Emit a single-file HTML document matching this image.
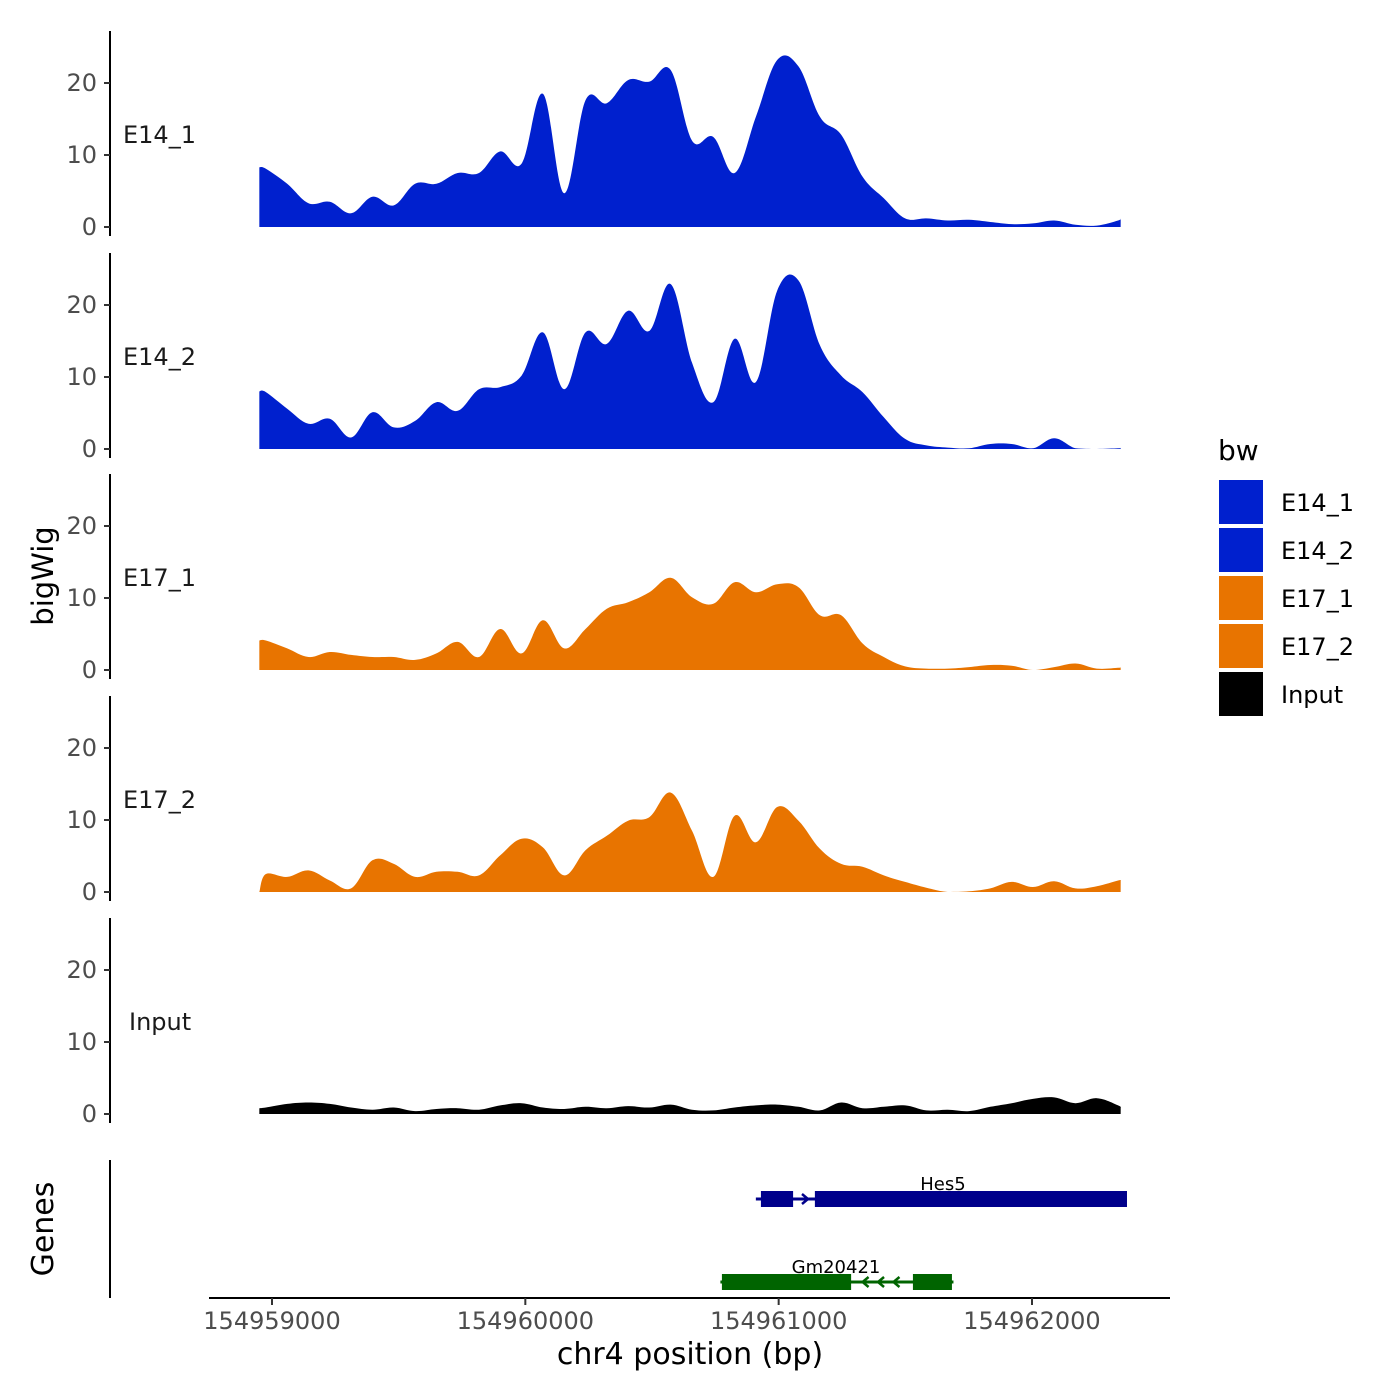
<!DOCTYPE html>
<html><head><meta charset="utf-8"><style>
body{margin:0;background:#fff;}
svg{display:block;font-family:"DejaVu Sans","Liberation Sans",sans-serif;}
</style></head><body>
<svg id="chart" width="1400" height="1400" viewBox="0 0 1400 1400"></svg>
<script>
const trackNames = ["E14_1","E14_2","E17_1","E17_2","Input"];
const trackColors = ["#0020CE","#0020CE","#E87400","#E87400","#000000"];
const startBp = 154958976;
const stepBp = 84.1;
const e14_1 = [8.1,6,3.3,3.5,1.9,4.2,3,6,6,7.5,7.5,10.5,8.8,18.5,4.7,17.6,17.2,20.4,20.2,21.8,12,12.5,7.5,15.3,23.2,22.3,15.3,12.8,7,4,1.2,1.2,0.9,1,0.7,0.4,0.5,0.9,0.3,0.2,0.9];
const e14_2 = [7.9,5.6,3.5,4.2,1.6,5.1,3,3.9,6.5,5.3,8.3,8.6,10.2,16.2,8.3,16.2,14.6,19.2,16.4,22.9,12,6.5,15.3,9.3,22,23.4,14.4,10.2,7.9,4.4,1.4,0.5,0.2,0.1,0.7,0.7,0.1,1.5,0.1,0,0.1];
const e17_1 = [4.1,3,1.8,2.5,2.1,1.8,1.8,1.4,2.3,3.9,1.8,5.7,2.3,6.9,3,5.7,8.5,9.4,10.8,12.8,10.1,9.2,12.2,10.8,11.9,11.5,7.6,7.6,3.7,1.8,0.5,0.2,0.2,0.4,0.7,0.6,0,0.4,0.9,0.2,0.3];
const e17_2 = [2.5,2.1,3,1.6,0.5,4.4,3.9,2.1,2.8,2.8,2.3,5.1,7.4,6.2,2.3,5.8,7.8,9.9,10.4,13.8,8.5,2.1,10.6,6.9,11.8,9.9,6,3.9,3.5,2.3,1.4,0.6,0,0.1,0.5,1.4,0.7,1.5,0.5,0.8,1.6];
const inputVals = [0.9,1.4,1.6,1.4,0.9,0.6,0.9,0.4,0.7,0.8,0.6,1.2,1.5,0.9,0.7,1.0,0.8,1.1,0.9,1.3,0.6,0.5,0.9,1.2,1.3,1.0,0.5,1.6,0.8,1.0,1.2,0.5,0.6,0.4,1.0,1.5,2.1,2.3,1.5,2.2,1.2];
const edgeStart = [8.3,8.0,4.1,0,0.8];
const edgeEnd = [1.2,0.2,0.4,1.6,0.8];
const xTicks = [154959000,154960000,154961000,154962000];
const yTicks = [0,10,20];
const legendLabels = ["E14_1","E14_2","E17_1","E17_2","Input"];
const legendColors = ["#0020CE","#0020CE","#E87400","#E87400","#000000"];
const genes = ["Hes5","Gm20421"];
const geneStart = [154960910,154960770];
const geneEnd = [154962375,154961690];
const hesExonStart = [154960930,154961143];
const hesExonEnd = [154961057,154962375];
const gmExonStart = [154960776,154961530];
const gmExonEnd = [154961286,154961684];

const series = [e14_1,e14_2,e17_1,e17_2,inputVals];
const NS="http://www.w3.org/2000/svg";
const svg=document.getElementById('chart');
function xS(bp){return 272+(bp-154959000)*0.25333;}
const zeroY=[227,449,670,892,1114];
function yS(p,v){return zeroY[p]-v*7.2;}
function mk(tag,attrs,parent){const e=document.createElementNS(NS,tag);for(const k in attrs)e.setAttribute(k,attrs[k]);(parent||svg).appendChild(e);return e;}

for(let p=0;p<5;p++){
  const g=mk('g',{});
  
  
  const vals=series[p];
  const x0=xS(154958950), x1=xS(154962350);
  const pts=[[x0,yS(p,edgeStart[p])]];
  for(let i=0;i<vals.length;i++) pts.push([xS(startBp+i*stepBp),yS(p,vals[i])]);
  pts.push([x1,yS(p,edgeEnd[p])]);
  let d='M'+x0+','+zeroY[p]+' L'+pts[0][0]+','+pts[0][1];
  const cl=v=>Math.min(v,zeroY[p]);
  for(let i=0;i<pts.length-1;i++){
    const a=pts[Math.max(0,i-1)],b=pts[i],c=pts[i+1],e=pts[Math.min(pts.length-1,i+2)];
    const t=0.18;
    const c1x=b[0]+(c[0]-a[0])*t, c1y=cl(b[1]+(c[1]-a[1])*t);
    const c2x=c[0]-(e[0]-b[0])*t, c2y=cl(c[1]-(e[1]-b[1])*t);
    d+=` C${c1x.toFixed(1)},${c1y.toFixed(1)} ${c2x.toFixed(1)},${c2y.toFixed(1)} ${c[0].toFixed(1)},${c[1].toFixed(1)}`;
  }
  d+=' L'+x1+','+zeroY[p]+' Z';
  const a=mk('path',{d:d,fill:trackColors[p]},g);
  
  
  const ax=mk('line',{x1:110,x2:110,y1:zeroY[p]-196,y2:zeroY[p]+9,stroke:'#000','stroke-width':2},g);
  
  
  for(const t of yTicks){
    const y=yS(p,t);
    mk('line',{x1:104,x2:110,y1:y,y2:y,stroke:'#333','stroke-width':2},g);
    const tl=mk('text',{x:97,y:y+8,'text-anchor':'end','font-size':24,fill:'#4d4d4d'},g);
    tl.textContent=t;
    
    
  }
  const lb=mk('text',{x:p==4?129:123,y:zeroY[p]-84,'font-size':24,fill:'#1a1a1a'},g);
  lb.textContent=trackNames[p];
  
  
}

const yt=mk('text',{x:0,y:0,transform:'translate(53,576) rotate(-90)','text-anchor':'middle','font-size':29,fill:'#000'});
yt.textContent='bigWig';


const gt=mk('text',{x:0,y:0,transform:'translate(53,1229) rotate(-90)','text-anchor':'middle','font-size':30,fill:'#000'});
gt.textContent='Genes';



const gl=mk('line',{x1:110,x2:110,y1:1160,y2:1298,stroke:'#000','stroke-width':2});


const xl=mk('line',{x1:209,x2:1170,y1:1298,y2:1298,stroke:'#000','stroke-width':2});


for(const t of xTicks){
  const x=xS(t);
  mk('line',{x1:x,x2:x,y1:1298,y2:1305,stroke:'#333','stroke-width':2});
  const tl=mk('text',{x:x,y:1329,'text-anchor':'middle','font-size':24,fill:'#4d4d4d'});
  tl.textContent=t;
  
  
}
const xt=mk('text',{x:690,y:1364,'text-anchor':'middle','font-size':30,fill:'#000'});
xt.textContent='chr4 position (bp)';



function drawGene(name,y,color,s,e,es,ee,dir,labelX){
  const g=mk('g',{});
  
  
  mk('line',{x1:xS(s),x2:xS(e),y1:y,y2:y,stroke:color,'stroke-width':3},g);
  for(let i=0;i<es.length;i++){
    const r=mk('rect',{x:xS(es[i]),y:y-8,width:xS(ee[i])-xS(es[i]),height:16,fill:color},g);
    
    
  }
  for(let i=0;i<es.length-1;i++){
    const a=xS(ee[i]),b=xS(es[i+1]);
    const n=Math.max(1,Math.floor((b-a)/18));
    for(let k=1;k<=n;k++){
      const xx=a+(b-a)*k/(n+1)+(dir>0?4:-4);
      mk('path',{d:`M${xx-dir*6},${y-5} L${xx},${y} L${xx-dir*6},${y+5}`,fill:'none',stroke:color,'stroke-width':2.5},g);
    }
  }
  const t=mk('text',{x:labelX,y:y-9,'text-anchor':'middle','font-size':18,fill:'#000'},g);
  t.textContent=name;
  
  
}
drawGene(genes[0],1199,'#00008B',geneStart[0],geneEnd[0],hesExonStart,hesExonEnd,1,943);
drawGene(genes[1],1282,'#006400',geneStart[1],geneEnd[1],gmExonStart,gmExonEnd,-1,836);

const lg=mk('g',{});


const ltit=mk('text',{x:1218,y:460,'font-size':28,fill:'#000'},lg);
ltit.textContent='bw';


for(let i=0;i<legendLabels.length;i++){
  const y=480+i*48;
  const r=mk('rect',{x:1219,y:y,width:44,height:44,fill:legendColors[i]},lg);
  
  
  const t=mk('text',{x:1281,y:y+31,'font-size':24,fill:'#000'},lg);
  t.textContent=legendLabels[i];
  
  
}
</script>
</body></html>
